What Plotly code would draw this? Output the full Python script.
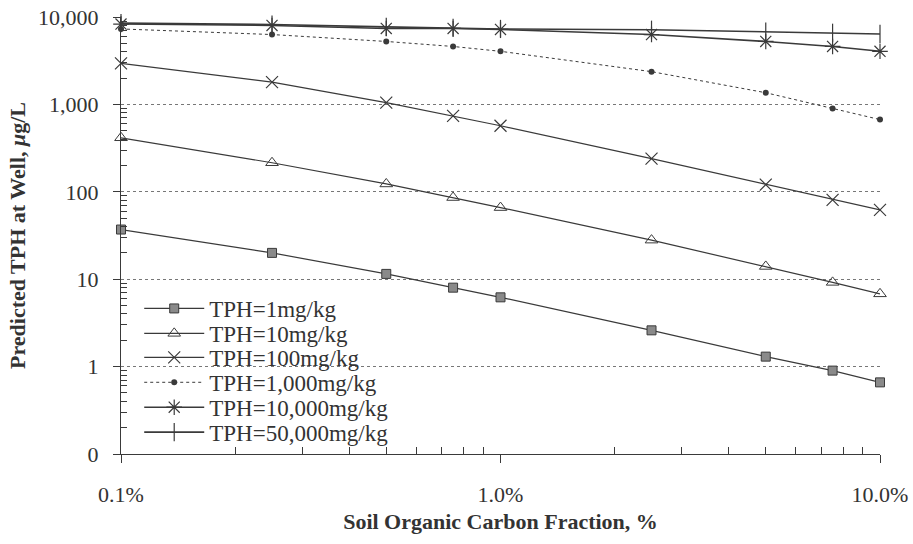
import plotly.graph_objects as go

# Soil organic carbon fraction (%)
foc_pct = [0.1, 0.25, 0.5, 0.75, 1.0, 2.5, 5.0, 7.5, 10.0]

# Predicted TPH at the well (ug/L) for each soil TPH concentration
tph_1 = [37, 20, 11.5, 8.0, 6.2, 2.6, 1.3, 0.9, 0.66]
tph_10 = [415, 215, 123, 86, 66, 28, 14, 9.2, 6.8]
tph_100 = [2950, 1800, 1050, 740, 570, 240, 121, 81, 62]
tph_1000 = [7300, 6300, 5250, 4600, 4050, 2370, 1360, 900, 670]
tph_10000 = [8300, 8000, 7400, 7400, 7200, 6300, 5250, 4600, 4050]
tph_50000 = [8500, 8200, 7700, 7500, 7300, 7150, 6800, 6600, 6400]

series_names = ["TPH=1mg/kg", "TPH=10mg/kg", "TPH=100mg/kg",
                "TPH=1,000mg/kg", "TPH=10,000mg/kg", "TPH=50,000mg/kg"]
series_values = [tph_1, tph_10, tph_100, tph_1000, tph_10000, tph_50000]

y_tick_vals = [0.1, 1, 10, 100, 1000, 10000]
y_tick_text = ["0", "1", "10", "100", "1,000", "10,000"]
x_tick_vals = [0.1, 1, 10]
x_tick_text = ["0.1%", "1.0%", "10.0%"]

INK = "#3a3a3a"
TEXT = "#333333"
FONT = "Liberation Serif"

styles = [
    dict(symbol="square", size=9, color="#8a8a8a", line=dict(color=INK, width=1)),
    dict(symbol="triangle-up-open", size=11, color=INK, line=dict(color=INK, width=1)),
    dict(symbol="x-thin-open", size=12, color=INK, line=dict(color=INK, width=1.2)),
    dict(symbol="circle", size=6, color=INK, line=dict(width=0)),
    dict(symbol="asterisk-open", size=13, color=INK, line=dict(color=INK, width=1.2)),
    dict(symbol="line-ns-open", size=13, color=INK, line=dict(color=INK, width=1.2)),
]
dashes = ["solid", "solid", "solid", "dot", "solid", "solid"]
widths = [1.2, 1.2, 1.2, 1.0, 1.6, 1.6]

# One single-entry legend per series so the rows can be stacked tightly
legend_ids = ["legend"] + [f"legend{i}" for i in range(2, 7)]
legend_row_y = [0.333, 0.276, 0.221, 0.164, 0.107, 0.050]

fig = go.Figure()
for name, vals, mk, dash, w, lid in zip(series_names, series_values, styles,
                                        dashes, widths, legend_ids):
    fig.add_trace(go.Scatter(
        x=foc_pct, y=vals, name=name, mode="lines+markers",
        line=dict(color=INK, width=w, dash=dash),
        marker=mk, cliponaxis=False, legend=lid,
    ))

legend_layouts = {}
for lid, ly in zip(legend_ids, legend_row_y):
    legend_layouts[lid] = dict(
        x=0.024, y=ly, xanchor="left", yanchor="middle",
        bgcolor="rgba(0,0,0,0)", borderwidth=0,
        font=dict(family=FONT, size=23, color=TEXT),
        itemwidth=60,
    )

minor_y = [k * 10 ** e for e in range(-1, 4) for k in range(2, 10)]
minor_x = [k * 10 ** e for e in range(-1, 1) for k in range(2, 10)]

fig.update_layout(
    width=913, height=544,
    margin=dict(l=121, r=33, t=17, b=90, autoexpand=False),
    paper_bgcolor="white", plot_bgcolor="white",
    font=dict(family=FONT, color=TEXT, size=22),
    showlegend=True,
    **legend_layouts,
    xaxis=dict(
        type="log", range=[-1, 1], automargin=False,
        tickmode="array", tickvals=x_tick_vals, ticktext=x_tick_text,
        ticks="outside", ticklen=8, tickcolor=INK,
        ticklabelstandoff=12,
        showline=True, linecolor=INK, linewidth=1.2,
        showgrid=False, zeroline=False,
        minor=dict(tickmode="array", tickvals=minor_x, ticks="inside",
                   ticklen=7, tickcolor=INK, showgrid=False),
        title=dict(text="<b>Soil Organic Carbon Fraction, %</b>", standoff=8,
                   font=dict(family=FONT, size=22, color=TEXT)),
    ),
    yaxis=dict(
        type="log", range=[-1, 4], automargin=False,
        tickmode="array", tickvals=y_tick_vals, ticktext=y_tick_text,
        ticks="outside", ticklen=7, tickcolor=INK,
        ticklabelstandoff=10,
        showline=True, linecolor=INK, linewidth=1.2,
        showgrid=True, gridcolor="#777777", griddash="dot", gridwidth=1,
        zeroline=False,
        minor=dict(tickmode="array", tickvals=minor_y, ticks="inside",
                   ticklen=6, tickcolor=INK, showgrid=False),
        title=dict(text="<b>Predicted TPH at Well, <i>μ</i>g/L</b>", standoff=6,
                   font=dict(family=FONT, size=22, color=TEXT)),
    ),
)

fig.write_html("out.html")
